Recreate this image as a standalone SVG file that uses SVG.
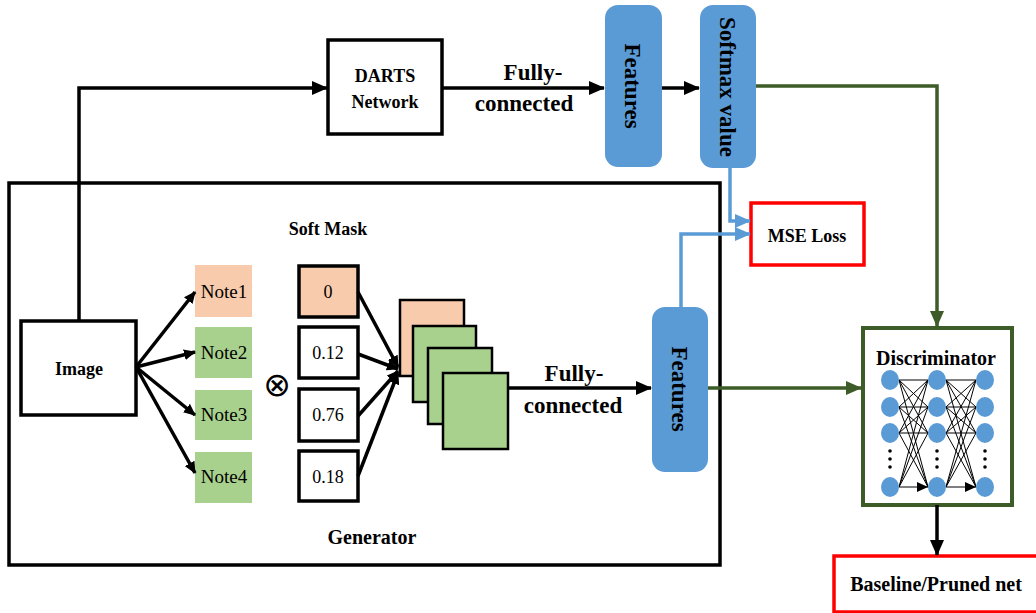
<svg xmlns="http://www.w3.org/2000/svg" width="1036" height="613" viewBox="0 0 1036 613">
<defs>
<style>
.t{fill:#000}
.b{font-weight:bold}
.box{fill:#fff;stroke:#000;stroke-width:3.5}
.note1{fill:#f8cbad}
.noteg{fill:#a9d18e}
.blue{fill:#5b9bd5}
.k{fill:none;stroke:#000;stroke-width:3.5}
.g{fill:none;stroke:#3d5c27;stroke-width:3.5}
.bl{fill:none;stroke:#5b9bd5;stroke-width:3.5}
.thin{fill:none;stroke:#000;stroke-width:1}
</style>
<marker id="ak" markerUnits="userSpaceOnUse" markerWidth="16" markerHeight="14" refX="15" refY="7" orient="auto"><path d="M0,0 L16,7 L0,14 z" fill="#000"/></marker>
<marker id="aks" markerUnits="userSpaceOnUse" markerWidth="12" markerHeight="11" refX="11" refY="5.5" orient="auto"><path d="M0,0 L12,5.5 L0,11 z" fill="#000"/></marker>
<marker id="ag" markerUnits="userSpaceOnUse" markerWidth="16" markerHeight="14" refX="15" refY="7" orient="auto"><path d="M0,0 L16,7 L0,14 z" fill="#3d5c27"/></marker>
<marker id="ab" markerUnits="userSpaceOnUse" markerWidth="16" markerHeight="14" refX="15" refY="7" orient="auto"><path d="M0,0 L16,7 L0,14 z" fill="#5b9bd5"/></marker>
<marker id="at" markerUnits="userSpaceOnUse" markerWidth="11" markerHeight="10" refX="11" refY="5" orient="auto"><path d="M0,0 L11,5 L0,10 z" fill="#000"/></marker>
</defs>
<rect width="1036" height="613" fill="#fff"/>
<g font-family="Liberation Serif, Times New Roman, serif">

<g id="generator">
<rect x="9" y="183" width="711" height="382" fill="none" stroke="#000" stroke-width="3.5"/>
<text class="t b" x="328" y="235" font-size="18" text-anchor="middle">Soft Mask</text>
<text class="t b" x="372" y="544" font-size="20" text-anchor="middle">Generator</text>
</g>

<g id="image">
<rect class="box" x="21" y="321" width="115" height="94"/>
<text class="t b" x="79" y="375" font-size="18" text-anchor="middle">Image</text>
</g>

<g id="darts">
<rect class="box" x="328" y="40" width="114" height="94"/>
<text class="t b" x="385" y="82" font-size="18" text-anchor="middle">DARTS</text>
<text class="t b" x="385" y="108" font-size="18" text-anchor="middle">Network</text>
</g>

<g id="features-top">
<rect class="blue" x="605" y="5" width="57" height="162" rx="13"/>
<text class="t b" transform="translate(633,86) rotate(90)" font-size="23" text-anchor="middle" dy="8">Features</text>
</g>

<g id="softmax">
<rect class="blue" x="700" y="5" width="56" height="163" rx="13"/>
<text class="t b" transform="translate(728,87) rotate(90)" font-size="23" text-anchor="middle" dy="8">Softmax value</text>
</g>

<g id="mse">
<rect x="751" y="203" width="113" height="62" fill="#fff" stroke="#ff0000" stroke-width="3.5"/>
<text class="t b" x="807" y="242" font-size="18" text-anchor="middle">MSE Loss</text>
</g>

<g id="features-bottom">
<rect class="blue" x="652" y="307" width="56" height="165" rx="13"/>
<text class="t b" transform="translate(680,389) rotate(90)" font-size="23" text-anchor="middle" dy="8">Features</text>
</g>

<g id="notes">
<rect class="note1" x="195" y="265" width="57" height="52"/>
<text class="t" x="224" y="298" font-size="19" text-anchor="middle">Note1</text>
<rect class="noteg" x="195" y="327" width="57" height="51"/>
<text class="t" x="224" y="359" font-size="19" text-anchor="middle">Note2</text>
<rect class="noteg" x="195" y="390" width="57" height="50"/>
<text class="t" x="224" y="421" font-size="19" text-anchor="middle">Note3</text>
<rect class="noteg" x="195" y="452" width="57" height="51"/>
<text class="t" x="224" y="483" font-size="19" text-anchor="middle">Note4</text>
</g>

<g id="otimes">
<text x="277" y="396" font-family="DejaVu Sans, sans-serif" font-size="33" text-anchor="middle">⊗</text>
</g>

<g id="mask">
<rect x="299" y="266" width="59" height="51" fill="#f8cbad" stroke="#000" stroke-width="3.5"/>
<text class="t" x="328" y="298" font-size="18" text-anchor="middle">0</text>
<rect class="box" x="299" y="327" width="59" height="51"/>
<text class="t" x="328" y="359" font-size="18" text-anchor="middle">0.12</text>
<rect class="box" x="299" y="389" width="59" height="52"/>
<text class="t" x="328" y="421" font-size="18" text-anchor="middle">0.76</text>
<rect class="box" x="299" y="451" width="59" height="50"/>
<text class="t" x="328" y="483" font-size="18" text-anchor="middle">0.18</text>
</g>

<g id="stack">
<rect x="400" y="300" width="64" height="76" fill="#f8cbad" stroke="#000" stroke-width="2.5"/>
<rect x="413" y="326" width="63" height="76" fill="#a9d18e" stroke="#000" stroke-width="2.5"/>
<rect x="428" y="348" width="64" height="76" fill="#a9d18e" stroke="#000" stroke-width="2.5"/>
<rect x="443" y="373" width="65" height="76" fill="#a9d18e" stroke="#000" stroke-width="2.5"/>
</g>

<g id="discriminator">
<rect x="863" y="328" width="149" height="177" fill="#fff" stroke="#3d5c27" stroke-width="4"/>
<text class="t b" x="936" y="365" font-size="20" text-anchor="middle">Discriminator</text>
<g class="thin">
<path d="M899,380 L928,380 M899,380 L928,407 M899,380 L928,433 M899,380 L928,487 M899,407 L928,380 M899,407 L928,407 M899,407 L928,433 M899,407 L928,487 M899,433 L928,380 M899,433 L928,407 M899,433 L928,433 M899,433 L928,487 M899,487 L928,380 M899,487 L928,407 M899,487 L928,433 M899,487 L928,487" marker-end="url(#at)"/>
<path d="M946,380 L976,380 M946,380 L976,407 M946,380 L976,433 M946,380 L976,487 M946,407 L976,380 M946,407 L976,407 M946,407 L976,433 M946,407 L976,487 M946,433 L976,380 M946,433 L976,407 M946,433 L976,433 M946,433 L976,487 M946,487 L976,380 M946,487 L976,407 M946,487 L976,433 M946,487 L976,487" marker-end="url(#at)"/>
</g>
<g class="blue">
<ellipse cx="890" cy="380" rx="9" ry="10"/><ellipse cx="890" cy="407" rx="9" ry="10"/><ellipse cx="890" cy="433" rx="9" ry="10"/><ellipse cx="890" cy="487" rx="9" ry="10"/>
<ellipse cx="937" cy="380" rx="9" ry="10"/><ellipse cx="937" cy="407" rx="9" ry="10"/><ellipse cx="937" cy="433" rx="9" ry="10"/><ellipse cx="937" cy="487" rx="9" ry="10"/>
<ellipse cx="985" cy="380" rx="9" ry="10"/><ellipse cx="985" cy="407" rx="9" ry="10"/><ellipse cx="985" cy="433" rx="9" ry="10"/><ellipse cx="985" cy="487" rx="9" ry="10"/>
</g>
<g fill="#000">
<circle cx="890" cy="451" r="1.8"/><circle cx="890" cy="459" r="1.8"/><circle cx="890" cy="467" r="1.8"/>
<circle cx="937" cy="451" r="1.8"/><circle cx="937" cy="459" r="1.8"/><circle cx="937" cy="467" r="1.8"/>
<circle cx="985" cy="451" r="1.8"/><circle cx="985" cy="459" r="1.8"/><circle cx="985" cy="467" r="1.8"/>
</g>
</g>

<g id="baseline">
<rect x="834" y="556" width="210" height="56" fill="#fff" stroke="#ff0000" stroke-width="3.5"/>
<text class="t b" x="936" y="591" font-size="20" text-anchor="middle">Baseline/Pruned net</text>
</g>

<g id="connectors">
<path class="k" d="M79,321 L79,88 L327,88" marker-end="url(#ak)"/>
<path class="k" d="M442,88 L604,88" marker-end="url(#ak)"/>
<path class="k" d="M662,88 L699,88" marker-end="url(#ak)"/>
<path class="g" d="M756,86 L937,86 L937,326" marker-end="url(#ag)"/>
<path class="bl" d="M730,168 L730,221 L750,221" marker-end="url(#ab)"/>
<path class="bl" d="M681,307 L681,234 L750,234" marker-end="url(#ab)"/>
<path class="g" d="M708,388 L861,388" marker-end="url(#ag)"/>
<path class="k" d="M508,388 L651,388" marker-end="url(#ak)"/>
<path class="k" d="M937,505 L937,555" marker-end="url(#ak)"/>
<g class="k" stroke-width="3">
<path d="M136,367 L195,292" marker-end="url(#aks)"/>
<path d="M136,367 L195,352" marker-end="url(#aks)"/>
<path d="M136,367 L195,415" marker-end="url(#aks)"/>
<path d="M136,367 L195,473" marker-end="url(#aks)"/>
<path d="M358,292 L398,367" marker-end="url(#aks)"/>
<path d="M358,354 L398,369" marker-end="url(#aks)"/>
<path d="M358,416 L398,371" marker-end="url(#aks)"/>
<path d="M358,476 L398,373" marker-end="url(#aks)"/>
</g>
<text class="t b" x="533" y="80" font-size="23" text-anchor="middle">Fully-</text>
<text class="t b" x="524" y="111" font-size="23" text-anchor="middle">connected</text>
<text class="t b" x="574" y="381" font-size="23" text-anchor="middle">Fully-</text>
<text class="t b" x="573" y="413" font-size="23" text-anchor="middle">connected</text>
</g>
</g>
</svg>
